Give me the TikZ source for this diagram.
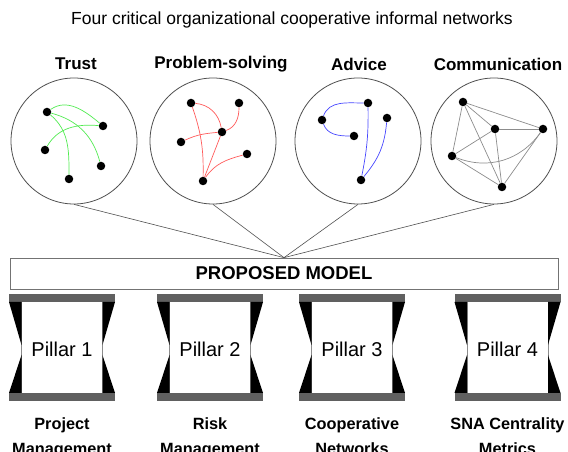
\documentclass[tikz,border=0pt]{standalone}
\usepackage{fontspec}
\setmainfont{Liberation Sans}
\definecolor{trustc}{RGB}{80,235,80}
\definecolor{psc}{RGB}{255,90,90}
\definecolor{advc}{RGB}{70,70,255}
\definecolor{commc}{RGB}{140,140,140}
\definecolor{barc}{RGB}{96,96,96}
\definecolor{circc}{RGB}{80,80,80}
\begin{document}
\begin{tikzpicture}[x=1pt,y=1pt,
  circ/.style={circle,draw=circc,line width=0.8pt,minimum size=126pt,inner sep=0pt},
  dot/.style={circle,fill=black,minimum size=8.5pt,inner sep=0pt},
  cattitle/.style={font=\bfseries\fontsize{17}{20}\selectfont},
  tedge/.style={draw=trustc,line width=0.7pt},
  pedge/.style={draw=psc,line width=0.7pt},
  aedge/.style={draw=advc,line width=0.7pt},
  cedge/.style={draw=commc,line width=0.7pt},
  link/.style={draw=circc,line width=0.6pt},
  modelbox/.style={draw=black!55,line width=0.7pt,minimum width=548pt,minimum height=31pt,inner sep=0pt,font=\bfseries\fontsize{18.5}{21}\selectfont},
  pillartext/.style={font=\fontsize{20}{24}\selectfont},
  pillarlabel/.style={align=center,font=\bfseries\fontsize{16.3}{25}\selectfont,anchor=north,inner sep=0pt}
]
\useasboundingbox (0,0) rectangle (568,452);

\node[font=\fontsize{17.5}{20}\selectfont] (head) at (292,432) {Four critical organizational cooperative informal networks};

% circles
\node[circ] (c1) at (74,311) {};
\node[circ] (c2) at (213,311) {};
\node[circ] (c3) at (358,311) {};
\node[circ] (c4) at (494,311) {};

\node[cattitle] (t1) at (76,388) {Trust};
\node[cattitle] (t2) at (221,388) {Problem-solving};
\node[cattitle] (t3) at (359,388) {Advice};
\node[cattitle] (t4) at (498,388) {Communication};

% Trust
\node[dot] (a1) at (47,340) {};
\node[dot] (a2) at (103,326) {};
\node[dot] (a3) at (45,302) {};
\node[dot] (a4) at (101,286) {};
\node[dot] (a5) at (69,273) {};
\path[tedge] (a1) to[out=35,in=140] (a2);
\path[tedge] (a1) to[out=-40,in=90] (a5);
\path[tedge] (a1) to[out=-15,in=105] (a4);
\path[tedge] (a3) to[out=60,in=175] (a2);

% Problem-solving
\node[dot] (b1) at (191,349) {};
\node[dot] (b2) at (239,349) {};
\node[dot] (b3) at (222,320) {};
\node[dot] (b4) at (181,310) {};
\node[dot] (b5) at (247,298) {};
\node[dot] (b6) at (203,271) {};
\path[pedge] (b1) to[out=-5,in=100] (b3);
\path[pedge] (b2) to[out=-90,in=20] (b3);
\path[pedge] (b4) to[out=25,in=185] (b3);
\path[pedge] (b1) to[bend left=10] (b6);
\path[pedge] (b3) -- (b6);
\path[pedge] (b6) to[out=55,in=195] (b5);

% Advice
\node[dot] (d1) at (322,332) {};
\node[dot] (d2) at (368,349) {};
\node[dot] (d3) at (354,316) {};
\node[dot] (d4) at (387,334) {};
\node[dot] (d5) at (361,272) {};
\path[aedge] (d1) to[out=70,in=180] (d2);
\path[aedge] (d1) to[out=-70,in=180] (d3);
\path[aedge] (d2) to[bend left=6] (d5);
\path[aedge] (d4) to[out=-95,in=50] (d5);

% Communication
\node[dot] (e1) at (463,350) {};
\node[dot] (e2) at (495,323) {};
\node[dot] (e3) at (543,323) {};
\node[dot] (e4) at (452,296) {};
\node[dot] (e5) at (502,265) {};
\path[cedge] (e1) -- (e2);
\path[cedge] (e1) -- (e3);
\path[cedge] (e1) -- (e4);
\path[cedge] (e1) -- (e5);
\path[cedge] (e2) -- (e3);
\path[cedge] (e2) -- (e4);
\path[cedge] (e2) -- (e5);
\path[cedge] (e3) -- (e5);
\path[cedge] (e4) -- (e5);
\path[cedge] (e4) to[bend right=38] (e3);

% model box
\node[modelbox] (pm) at (284,178.5) {PROPOSED MODEL};
\path[link] (c1.south) -- (pm.north);
\path[link] (c2.south) -- (pm.north);
\path[link] (c3.south) -- (pm.north);
\path[link] (c4.south) -- (pm.north);

% pillars
\foreach \cx/\n/\lab in {62/1/{Project\\Management},210/2/{Risk\\Management},352/3/{Cooperative\\Networks},507.5/4/{SNA Centrality\\Metrics}}{
  \fill[white] (\cx-40.5,59) rectangle (\cx+40.5,150);
  \draw[black!45,line width=0.4pt] (\cx-40.5,59) -- (\cx-40.5,150) (\cx+40.5,59) -- (\cx+40.5,150);
  \fill[barc] (\cx-53,150) rectangle (\cx+53,158);
  \fill[barc] (\cx-53,51) rectangle (\cx+53,59);
  \fill[black] (\cx-53,150) -- (\cx-40.5,150) -- (\cx-40.5,107) -- cycle;
  \fill[black] (\cx-53,59) -- (\cx-40.5,59) -- (\cx-40.5,97) -- cycle;
  \fill[black] (\cx+53,150) -- (\cx+40.5,150) -- (\cx+40.5,107) -- cycle;
  \fill[black] (\cx+53,59) -- (\cx+40.5,59) -- (\cx+40.5,97) -- cycle;
  \node[pillartext] (p\n) at (\cx,103) {Pillar \n};
  \node[pillarlabel] (l\n) at (\cx,35) {\lab};
}
\end{tikzpicture}
\end{document}
